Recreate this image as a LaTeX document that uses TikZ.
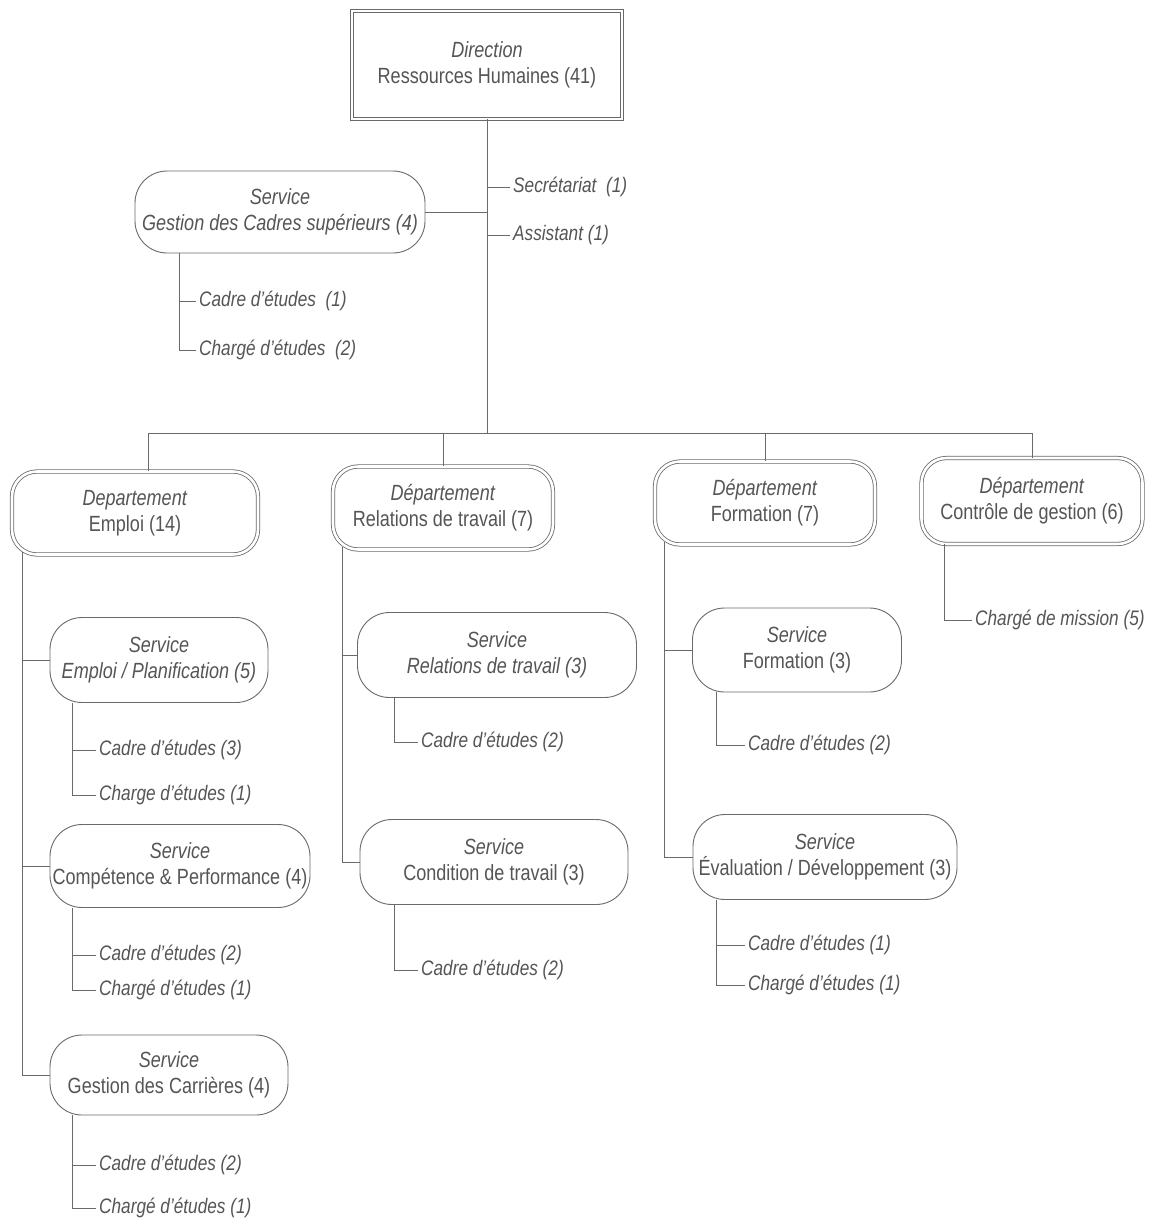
\documentclass[tikz,border=0pt]{standalone}
\usepackage{fontspec}
\setmainfont[FakeStretch=0.82]{Liberation Sans}
\definecolor{ink}{HTML}{555555}
\definecolor{rule}{HTML}{6A6A6A}
\begin{document}
\begin{tikzpicture}[x=1pt,y=-1pt,
  every node/.style={text=ink, font=\fontsize{22}{26}\selectfont, align=center, inner sep=2pt},
  link/.style={draw=rule, line width=0.9pt},
  headbox/.style={draw=rule, line width=0.8pt, double=white, double distance=2.6pt},
  deptbox/.style={draw=rule, line width=0.8pt, double=white, double distance=2.6pt, rounded corners=25pt},
  svcbox/.style={draw=rule, line width=0.9pt, rounded corners=32pt},
  lbl/.style={anchor=west, font=\fontsize{21}{24}\selectfont\itshape, inner sep=3pt}
]
\useasboundingbox[fill=white] (0,0) rectangle (1151,1227);

% --- Direction -------------------------------------------------------
\node[headbox, minimum width=270pt, minimum height=108pt] (dir) at (487,65)
  {\textit{Direction}\\Ressources Humaines (41)};
\coordinate (bus) at (487,433);
\draw[link] (dir.south) -- (bus);

\node[lbl] (sec) at (510,187) {Secrétariat\ \ (1)};
\node[lbl] (asst) at (510,235) {Assistant (1)};
\draw[link] (sec.west) -- (sec.west -| dir.south);
\draw[link] (asst.west) -- (asst.west -| dir.south);

% --- Service Gestion des Cadres supérieurs ---------------------------
\node[svcbox, minimum width=290pt, minimum height=82pt] (gcs) at (280,212)
  {\textit{Service}\\\textit{Gestion des Cadres supérieurs (4)}};
\draw[link] (gcs.east) -- (gcs.east -| dir.south);
\node[lbl] (gcs1) at (196,301) {Cadre d'études\ \ (1)};
\node[lbl] (gcs2) at (196,350) {Chargé d'études\ \ (2)};
\draw[link] ([xshift=45pt]gcs.south west) |- (gcs1.west);
\draw[link] ([xshift=45pt]gcs.south west) |- (gcs2.west);

% --- Départements ----------------------------------------------------
\node[deptbox, minimum width=246pt, minimum height=83pt] (dE) at (135,513)
  {\textit{Departement}\\Emploi (14)};
\node[deptbox, minimum width=220pt, minimum height=83pt] (dR) at (443,508)
  {\textit{Département}\\Relations de travail (7)};
\node[deptbox, minimum width=220pt, minimum height=83pt] (dF) at (765,503)
  {\textit{Département}\\Formation (7)};
\node[deptbox, minimum width=221pt, minimum height=86pt] (dC) at (1032,501)
  {\textit{Département}\\Contrôle de gestion (6)};

\coordinate (dEtop) at ([xshift=13pt]dE.north);
\draw[link] (bus -| dEtop) -- (bus -| dC.north);
\draw[link] (bus -| dEtop) -- (dEtop);
\foreach \d in {dR,dF,dC}{\draw[link] (bus -| \d.north) -- (\d.north);}

% --- Département Emploi ----------------------------------------------
\node[svcbox, minimum width=218pt, minimum height=85pt] (sEP) at (159,660)
  {\textit{Service}\\\textit{Emploi / Planification (5)}};
\node[svcbox, minimum width=260pt, minimum height=83pt] (sCP) at (180,866)
  {\textit{Service}\\Compétence \& Performance (4)};
\node[svcbox, minimum width=238pt, minimum height=80pt] (sGC) at (169,1075)
  {\textit{Service}\\Gestion des Carrières (4)};
\foreach \s in {sEP,sCP,sGC}{\draw[link] ([shift={(11,-3)}]dE.south west) |- (\s.west);}

\node[lbl] (ep1) at (96,750) {Cadre d'études (3)};
\node[lbl] (ep2) at (96,795) {Charge d'études (1)};
\draw[link] ([xshift=23pt]sEP.south west) |- (ep1.west);
\draw[link] ([xshift=23pt]sEP.south west) |- (ep2.west);

\node[lbl] (cp1) at (96,955) {Cadre d'études (2)};
\node[lbl] (cp2) at (96,990) {Chargé d'études (1)};
\draw[link] ([xshift=23pt]sCP.south west) |- (cp1.west);
\draw[link] ([xshift=23pt]sCP.south west) |- (cp2.west);

\node[lbl] (gc1) at (96,1165) {Cadre d'études (2)};
\node[lbl] (gc2) at (96,1208) {Chargé d'études (1)};
\draw[link] ([xshift=23pt]sGC.south west) |- (gc1.west);
\draw[link] ([xshift=23pt]sGC.south west) |- (gc2.west);

% --- Département Relations de travail --------------------------------
\node[svcbox, minimum width=279pt, minimum height=85pt] (sRT) at (497,655)
  {\textit{Service}\\\textit{Relations de travail (3)}};
\node[svcbox, minimum width=268pt, minimum height=85pt] (sCT) at (494,862)
  {\textit{Service}\\Condition de travail (3)};
\foreach \s in {sRT,sCT}{\draw[link] ([shift={(10,-3)}]dR.south west) |- (\s.west);}

\node[lbl] (rt1) at (418,742) {Cadre d'études (2)};
\draw[link] ([xshift=37pt]sRT.south west) |- (rt1.west);
\node[lbl] (ct1) at (418,970) {Cadre d'études (2)};
\draw[link] ([xshift=35pt]sCT.south west) |- (ct1.west);

% --- Département Formation -------------------------------------------
\node[svcbox, minimum width=209pt, minimum height=84pt] (sFo) at (797,650)
  {\textit{Service}\\Formation (3)};
\node[svcbox, minimum width=264pt, minimum height=85pt] (sED) at (825,857)
  {\textit{Service}\\Évaluation / Développement (3)};
\foreach \s in {sFo,sED}{\draw[link] ([shift={(10,-3)}]dF.south west) |- (\s.west);}

\node[lbl] (fo1) at (745,745) {Cadre d'études (2)};
\draw[link] ([xshift=24pt]sFo.south west) |- (fo1.west);
\node[lbl] (ed1) at (745,945) {Cadre d'études (1)};
\node[lbl] (ed2) at (745,985) {Chargé d'études (1)};
\draw[link] ([xshift=24pt]sED.south west) |- (ed1.west);
\draw[link] ([xshift=24pt]sED.south west) |- (ed2.west);

% --- Département Contrôle de gestion ---------------------------------
\node[lbl] (cg1) at (972,620) {Chargé de mission (5)};
\draw[link] ([xshift=23pt]dC.south west) |- (cg1.west);
\end{tikzpicture}
\end{document}
